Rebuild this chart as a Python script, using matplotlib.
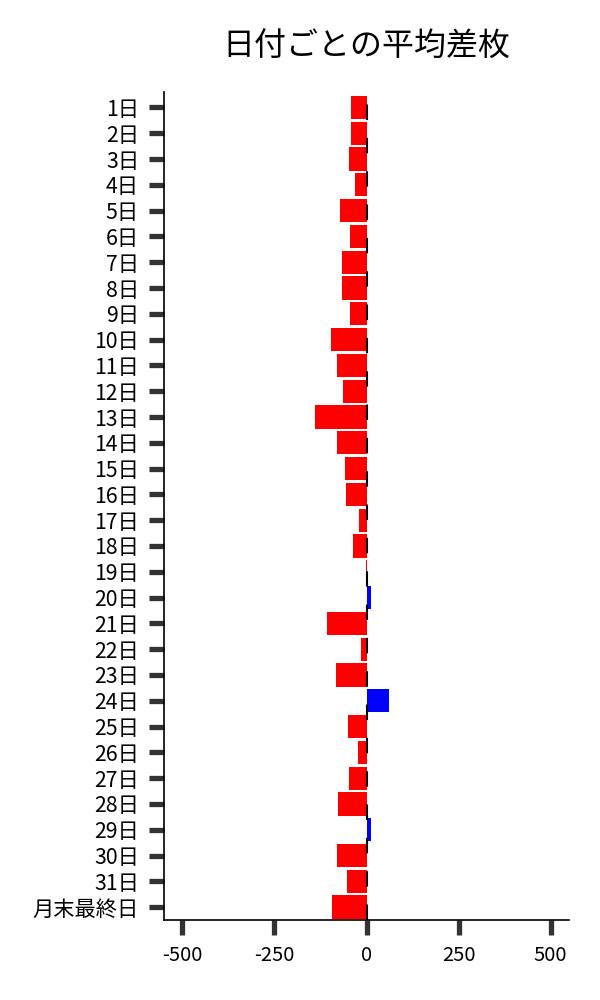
import matplotlib
matplotlib.use("Agg")
import matplotlib.pyplot as plt

plt.rcParams['font.family'] = ['Noto Sans CJK JP', 'DejaVu Sans']

categories = [f"{i}日" for i in range(1, 32)] + ["月末最終日"]
values = [-42, -42, -47, -31, -72, -45, -66, -66, -45, -96,
          -80, -64, -140, -80, -58, -56, -20, -36, -2, 11,
          -107, -15, -83, 60, -50, -23, -47, -77, 13, -80,
          -53, -94]
xticks = [-500, -250, 0, 250, 500]
title = "日付ごとの平均差枚"

colors = ['blue' if v > 0 else 'red' for v in values]

fig = plt.figure(figsize=(6, 10), dpi=100)
ax = fig.add_axes([164 / 600, 0.080, 405 / 600, 0.828])
ypos = list(range(len(categories)))
ax.barh(ypos, values, height=0.9, color=colors, zorder=2)
ax.axvline(0, color='black', linewidth=1.5, dashes=(7.44, 8.56), zorder=3)

ax.set_yticks(ypos)
ax.set_yticklabels(categories, fontsize=15.3)
ax.set_xticks(xticks)
ax.set_xticklabels([str(t) for t in xticks], fontsize=14.5)
ax.set_xlim(-550, 550)
ax.set_ylim(len(categories) - 0.5, -0.6)

ax.tick_params(axis='both', length=11, width=3.8, color='#333333')
ax.tick_params(axis='y', pad=7)
ax.tick_params(axis='x', pad=7)
ax.spines['top'].set_visible(False)
ax.spines['right'].set_visible(False)
ax.spines['left'].set_linewidth(1.2)
ax.spines['bottom'].set_linewidth(1.2)

ax.set_title(title, fontsize=23, pad=26)

fig.savefig("out.png", dpi=100)
